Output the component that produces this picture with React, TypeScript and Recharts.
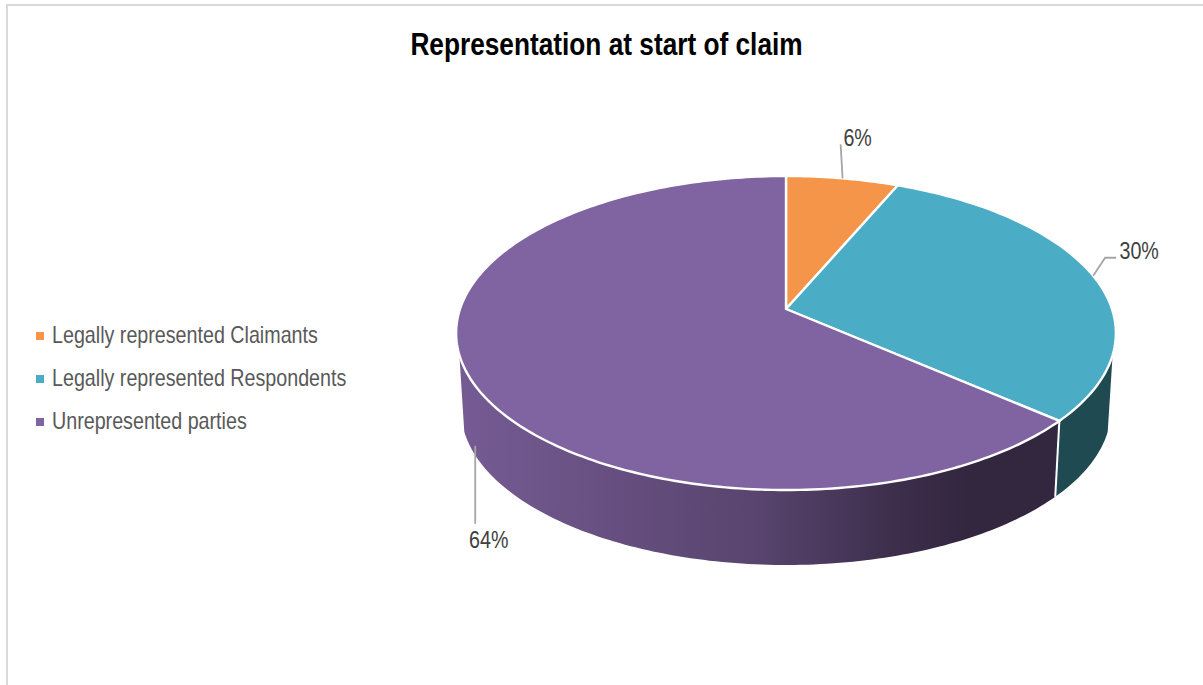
import React from "react";
import { PieChart, Pie, Legend } from "recharts";

const categories = ["Legally represented Claimants", "Legally represented Respondents", "Unrepresented parties"];
const shares = [6.4, 30, 63.6];
const colours = ["#F4954A", "#4BACC6", "#8064A2"];
const wallColours = ["#B9682B", "#1F4A52", "url(#purpleWall)"];
const tableRows = categories.map((name, i) => ({ name, value: shares[i], fill: colours[i] }));

const FONT = "'Liberation Sans', Arial, sans-serif";
const NARROW = 0.82; // the reference text is horizontally condensed
const TILT = 0.4816; // vertical squash of the disc
const PERSPECTIVE = -0.153; // near side looks bigger
const APEX_SHIFT = 24 / 326; // apex sits above the ellipse centre
const DEPTH = 77 / 326; // wall height
const WALL_SHRINK_X = 0.985;
const WALL_SHRINK_Y = 0.987;
const WALL_FROM = 106.7;
const WALL_TO = 253.3;

const project = (cx: number, cy: number, r: number, theta: number) => {
  const t = (theta * Math.PI) / 180;
  const u = Math.sin(t);
  const v = -Math.cos(t);
  const w = 1 + PERSPECTIVE * v;
  const shift = APEX_SHIFT * r;
  return { x: cx + (r * u) / w, y: cy + shift + (TILT * r * v - shift) / w };
};
const lower = (cx: number, cy: number, r: number, p: { x: number; y: number }) => {
  const centre = cy + APEX_SHIFT * r;
  return {
    x: cx + (p.x - cx) * WALL_SHRINK_X,
    y: centre + (p.y - centre) * WALL_SHRINK_Y + DEPTH * r,
  };
};
const arc = (cx: number, cy: number, r: number, a: number, b: number) => {
  const n = Math.max(2, Math.ceil(Math.abs(b - a)));
  const out = [] as { x: number; y: number }[];
  for (let i = 0; i <= n; i++) out.push(project(cx, cy, r, a + ((b - a) * i) / n));
  return out;
};
const toPath = (pts: { x: number; y: number }[]) =>
  pts.map((p, i) => `${i ? "L" : "M"}${p.x.toFixed(2)} ${p.y.toFixed(2)}`).join(" ");

const Slice = (props: any) => {
  const { cx, cy, outerRadius: r, startAngle, endAngle, index, fill } = props;
  const a = 90 - startAngle;
  const b = 90 - endAngle;
  const from = Math.max(a, WALL_FROM);
  const to = Math.min(b, WALL_TO);
  const top = arc(cx, cy, r, a, b);
  const hasWall = to > from;
  const wallTop = hasWall ? arc(cx, cy, r, from, to) : [];
  const wallBottom = wallTop.map((p) => lower(cx, cy, r, p)).reverse();
  const first = wallTop[0];
  return (
    <g>
      <defs>
        <linearGradient id="purpleWall" gradientUnits="userSpaceOnUse" x1={cx - r} x2={cx + 0.83 * r} y1={0} y2={0}>
          <stop offset="0" stopColor="#755B93" />
          <stop offset="0.5" stopColor="#58446E" />
          <stop offset="0.72" stopColor="#3E2F4D" />
          <stop offset="0.85" stopColor="#33263F" />
          <stop offset="1" stopColor="#33263F" />
        </linearGradient>
      </defs>
      {hasWall && <path d={toPath([...wallTop, ...wallBottom]) + " Z"} fill={wallColours[index]} />}
      {hasWall && a >= WALL_FROM && (
        <path d={toPath([first, lower(cx, cy, r, first)])} stroke="#fff" strokeWidth={2} fill="none" />
      )}
      <path
        d={`M${cx} ${cy} ` + toPath(top).replace(/^M/, "L") + " Z"}
        fill={fill}
        stroke="#fff"
        strokeWidth={2.4}
        strokeLinejoin="round"
      />
    </g>
  );
};

// leader routes and text spots, relative to each slice's mid-rim point
const leaders = [
  { pts: [[0, 0], [-2, -34]], tx: 15, ty: -41 },
  { pts: [[0, 0], [12, -18], [23, -18]], tx: 46, ty: -25 },
  { pts: [[6, 69], [6, 147]], tx: 19.5, ty: 163 },
];

const SliceLabel = (props: any) => {
  const { cx, cy, outerRadius: r, midAngle, index, value } = props;
  const p = project(cx, cy, r, 90 - midAngle);
  const l = leaders[index];
  return (
    <g>
      <path
        d={toPath(l.pts.map(([dx, dy]) => ({ x: p.x + dx, y: p.y + dy })))}
        stroke="#A6A6A6"
        strokeWidth={1.8}
        fill="none"
      />
      <text
        transform={`translate(${p.x + l.tx} ${p.y + l.ty}) scale(${NARROW} 1)`}
        textAnchor="middle"
        dominantBaseline="central"
        fontFamily={FONT}
        fontSize={24}
        fill="#404040"
      >
        {`${Math.round(value)}%`}
      </text>
    </g>
  );
};

const LegendList = ({ payload }: any) => (
  <div style={{ fontFamily: FONT, fontSize: 24, color: "#595959" }}>
    {(payload || []).map((e: any) => (
      <div key={e.value} style={{ display: "flex", alignItems: "center", height: 43, whiteSpace: "nowrap" }}>
        <span style={{ width: 8, height: 8, background: e.color, marginRight: 8, marginTop: 2, flex: "none" }} />
        <span style={{ display: "inline-block", transform: `scaleX(${NARROW})`, transformOrigin: "left center" }}>
          {e.value}
        </span>
      </div>
    ))}
  </div>
);

export default function App() {
  return (
    <div style={{ position: "absolute", left: 0, top: 0, width: 1203, height: 685, background: "#fff", overflow: "hidden" }}>
      <div
        style={{
          position: "absolute",
          left: 6,
          top: 4,
          right: -4,
          bottom: -4,
          borderLeft: "2px solid #D9D9D9",
          borderTop: "2px solid #D9D9D9",
        }}
      />
      <div
        style={{
          position: "absolute",
          left: 0,
          width: 1213,
          top: 24,
          textAlign: "center",
          fontFamily: FONT,
          fontWeight: 700,
          fontSize: 32,
          lineHeight: "40px",
          color: "#000",
          transform: `scaleX(${NARROW})`,
          transformOrigin: "606.5px center",
        }}
      >
        Representation at start of claim
      </div>
      <PieChart
        width={1203}
        height={685}
        margin={{ top: 0, right: 0, bottom: 0, left: 0 }}
        style={{ position: "absolute", left: 0, top: 0 }}
      >
        <Pie
          data={tableRows}
          dataKey="value"
          nameKey="name"
          cx={786}
          cy={309}
          outerRadius={326}
          startAngle={90}
          endAngle={-270}
          isAnimationActive={false}
          shape={Slice}
          activeShape={Slice}
          inactiveShape={Slice}
          label={SliceLabel}
          labelLine={false}
        />
        <Legend
          layout="vertical"
          align="center"
          verticalAlign="middle"
          content={<LegendList />}
          wrapperStyle={{ position: "absolute", left: 36, top: 313, width: 340 }}
        />
      </PieChart>
    </div>
  );
}
